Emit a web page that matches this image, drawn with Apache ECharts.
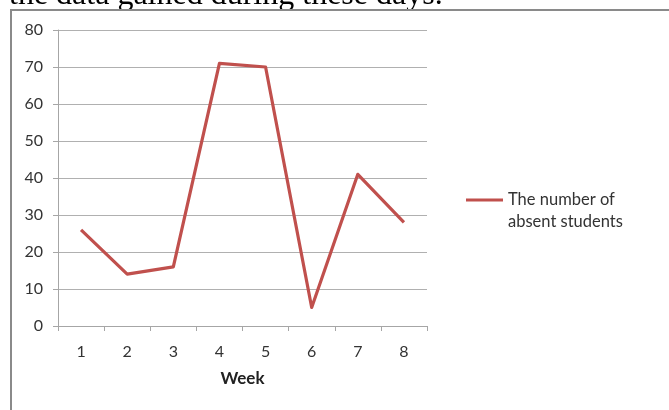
<!DOCTYPE html>
<html>
<head>
<meta charset="utf-8">
<script src="https://cdn.jsdelivr.net/npm/echarts@6/dist/echarts.min.js"></script>
<style>
html,body{margin:0;padding:0;background:#fff;}
#chart{width:669px;height:410px;}
</style>
</head>
<body>
<div id="chart"></div>
<script>
var weeks = ['1', '2', '3', '4', '5', '6', '7', '8'];
var absentStudents = [26, 14, 16, 71, 70, 5, 41, 28];
var seriesName = 'The number of\nabsent students';
var yTicks = { min: 0, max: 80, interval: 10 };
var headerText = 'the data gained during these days.';

var chart = echarts.init(document.getElementById('chart'), null, { renderer: 'canvas' });
var labelFont = 'Lato, "Open Sans", sans-serif';
chart.setOption({
  animation: false,
  backgroundColor: '#ffffff',
  graphic: [
    {
      type: 'text',
      left: 9,
      top: -20,
      style: {
        text: headerText,
        font: '32px "Liberation Serif", "Times New Roman", serif',
        fill: '#000'
      }
    },
    {
      type: 'rect',
      shape: { x: 11, y: 10, width: 700, height: 500 },
      style: { fill: 'none', stroke: '#8a8a8a', lineWidth: 2 },
      silent: true
    }
  ],
  grid: { left: 58, right: 669 - 427, top: 30, bottom: 410 - 326, containLabel: false },
  legend: {
    left: 466,
    top: 167,
    icon: 'rect',
    itemWidth: 37,
    itemHeight: 3,
    padding: 0,
    formatter: function (name) { return '\n' + name; },
    textStyle: {
      fontFamily: labelFont,
      fontSize: 16.5,
      color: '#333333',
      lineHeight: 22
    },
    data: [seriesName]
  },
  xAxis: {
    type: 'category',
    data: weeks,
    boundaryGap: true,
    name: 'Week',
    nameLocation: 'middle',
    nameGap: 44,
    nameTextStyle: { fontFamily: labelFont, fontSize: 17, fontWeight: 'bold', color: '#222' },
    axisLine: { lineStyle: { color: '#a6a6a6', width: 1 } },
    axisTick: { show: true, length: 5, alignWithLabel: false, lineStyle: { color: '#a6a6a6' } },
    axisLabel: { fontFamily: labelFont, fontSize: 16, color: '#333333', margin: 18 },
    splitLine: { show: false }
  },
  yAxis: {
    type: 'value',
    min: yTicks.min,
    max: yTicks.max,
    interval: yTicks.interval,
    axisLine: { show: true, lineStyle: { color: '#a6a6a6', width: 1 } },
    axisTick: { show: true, length: 5, lineStyle: { color: '#a6a6a6' } },
    axisLabel: { fontFamily: labelFont, fontSize: 16, color: '#333333', margin: 15 },
    splitLine: { show: true, lineStyle: { color: '#b0b0b0', width: 1 } }
  },
  series: [{
    name: seriesName,
    type: 'line',
    data: absentStudents,
    showSymbol: false,
    symbol: 'none',
    color: '#C0504D',
    lineStyle: { color: '#C0504D', width: 3.2, join: 'round' }
  }]
});
</script>
</body>
</html>
